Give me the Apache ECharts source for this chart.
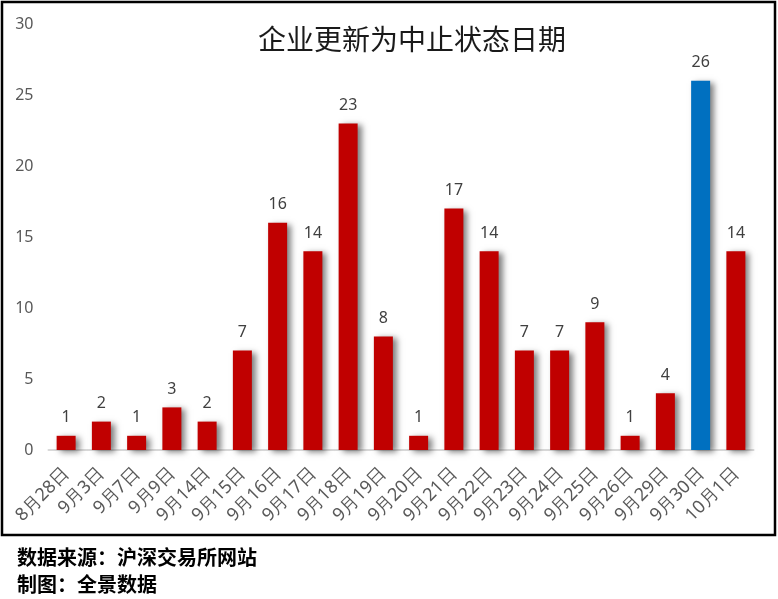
<!DOCTYPE html>
<html><head><meta charset="utf-8">
<script src="https://cdn.jsdelivr.net/npm/echarts@6/dist/echarts.min.js"></script>
<style>html,body{margin:0;padding:0;background:#fff;}#c{width:778px;height:599px;}</style>
</head><body><div id="c"></div>
<script>
const cats = ['8月28日','9月3日','9月7日','9月9日','9月14日','9月15日','9月16日','9月17日','9月18日','9月19日','9月20日','9月21日','9月22日','9月23日','9月24日','9月25日','9月26日','9月29日','9月30日','10月1日'];
const values = [1,2,1,3,2,7,16,14,23,8,1,17,14,7,7,9,1,4,26,14];
const highlightCategory = '9月30日';
const yTicks = {min:0, max:30, interval:5};
const titleText = '企业更新为中止状态日期';
const footer1 = '数据来源：沪深交易所网站';
const footer2 = '制图：全景数据';

const chart = echarts.init(document.getElementById('c'));
chart.setOption({
  animation:false,
  backgroundColor:'#fff',
  title:[
    {text:titleText,left:253,top:20,textStyle:{fontSize:28,fontWeight:'normal',color:'#1a1a1a',fontFamily:'Noto Sans CJK SC'}},
    {text:footer1,left:12,top:542,textStyle:{fontSize:20,fontWeight:'bold',color:'#000',fontFamily:'Noto Sans CJK SC'}},
    {text:footer2,left:12,top:569,textStyle:{fontSize:20,fontWeight:'bold',color:'#000',fontFamily:'Noto Sans CJK SC'}}
  ],
  graphic:[{type:'rect',shape:{x:2,y:2,width:773,height:533},style:{fill:'none',stroke:'#000',lineWidth:2.5},silent:true}],
  grid:{left:48.5,right:24.5,top:24,bottom:149,containLabel:false},
  xAxis:{type:'category',data:cats,
    axisLine:{lineStyle:{color:'#d9d9d9',width:2}},axisTick:{show:false},
    axisLabel:{rotate:45,interval:0,color:'#595959',fontSize:18,margin:21,fontFamily:'Noto Sans'}},
  yAxis:{type:'value',min:yTicks.min,max:yTicks.max,interval:yTicks.interval,
    axisLine:{show:false},axisTick:{show:false},splitLine:{show:false},
    axisLabel:{color:'#595959',fontSize:16,margin:15,fontFamily:'Noto Sans'}},
  series:[{type:'bar',barWidth:19,
    data:values.map((v,i)=>({value:v,itemStyle:{color:cats[i]===highlightCategory?'#0070C0':'#C00000'}})),
    itemStyle:{shadowColor:'rgba(0,0,0,0.5)',shadowBlur:6,shadowOffsetX:4,shadowOffsetY:2},
    label:{show:true,position:'top',distance:10,color:'#404040',fontSize:16,fontFamily:'Noto Sans'}}]
});
</script>
</body></html>
